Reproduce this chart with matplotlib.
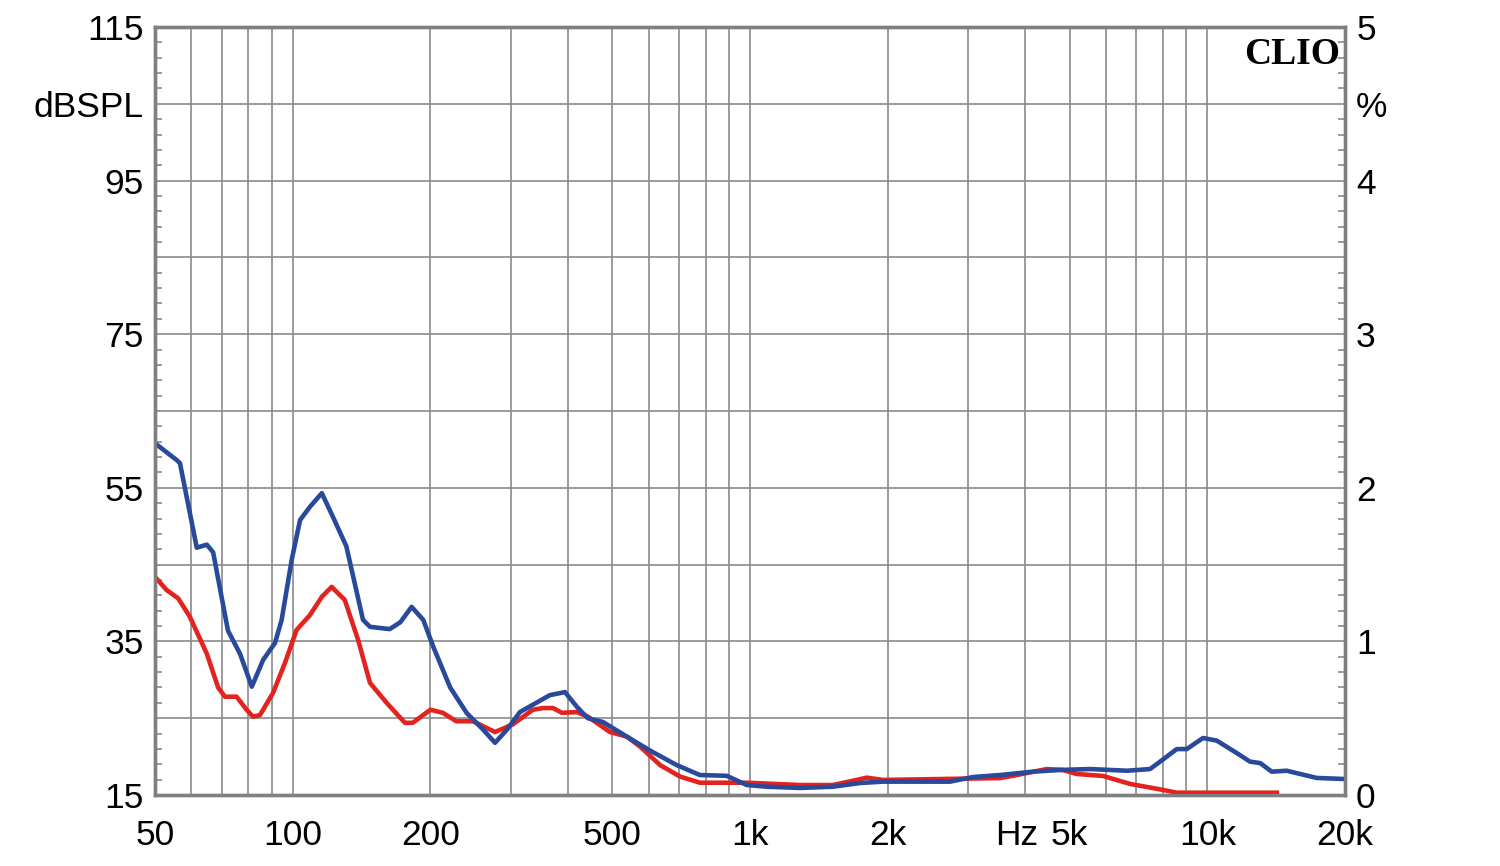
import numpy as np
import matplotlib
matplotlib.use("Agg")
import matplotlib.pyplot as plt
from matplotlib.ticker import FixedLocator, NullFormatter

# ---------------- data (distortion in %) ----------------
blue_freq = [50, 55.8, 56.7, 61.7, 64.9, 67, 72.2, 76.7, 81.4, 86.2, 91.5, 94.6, 99.5,
             103.8, 109, 115.8, 122.5, 131, 142.5, 147.6, 163, 172, 182, 193, 203, 221,
             240, 261, 277, 294, 314, 365, 394, 418, 442, 477, 538, 604, 691, 777, 889,
             984, 1088, 1286, 1519, 1741, 1954, 2737, 3073, 3521, 4160, 4764, 5540, 6676,
             7495, 7882, 8574, 9016, 9786, 10486, 11600, 12400, 13045, 13830, 14920,
             15950, 17350, 20000]
blue_pct = [2.29, 2.18, 2.16, 1.61, 1.63, 1.58, 1.07, 0.92, 0.705, 0.88, 0.99, 1.14, 1.53,
            1.79, 1.875, 1.965, 1.81, 1.62, 1.14, 1.095, 1.08, 1.125, 1.225, 1.14, 0.965,
            0.70, 0.535, 0.425, 0.34, 0.425, 0.54, 0.65, 0.67, 0.575, 0.50, 0.475, 0.38,
            0.29, 0.195, 0.13, 0.125, 0.065, 0.054, 0.046, 0.054, 0.078, 0.087, 0.087,
            0.117, 0.13, 0.152, 0.163, 0.169, 0.158, 0.169, 0.217, 0.299, 0.299, 0.371,
            0.354, 0.273, 0.217, 0.208, 0.152, 0.158, 0.137, 0.111, 0.104]

red_freq = [50, 53, 56.2, 59.6, 64.9, 68.7, 71.1, 75.4, 79.3, 81.9, 84.8, 90.6, 96.2, 102,
            109, 115.8, 121.7, 130, 139, 147.6, 160.5, 176, 183, 200, 213, 228, 248, 277,
            303, 335, 353, 371, 388, 418, 442, 494, 538, 575, 636, 703, 777, 984, 1286,
            1519, 1680, 1800, 1954, 2737, 3521, 3832, 4457, 4835, 5180, 5915, 6780, 8005,
            8574, 14190]
red_pct = [1.42, 1.335, 1.28, 1.16, 0.92, 0.70, 0.64, 0.64, 0.555, 0.51, 0.52, 0.665, 0.86,
           1.075, 1.17, 1.29, 1.355, 1.27, 1.01, 0.73, 0.60, 0.47, 0.47, 0.555, 0.535, 0.48,
           0.48, 0.41, 0.46, 0.555, 0.566, 0.566, 0.535, 0.54, 0.51, 0.41, 0.38, 0.315,
           0.195, 0.12, 0.08, 0.08, 0.065, 0.065, 0.093, 0.113, 0.098, 0.105, 0.11, 0.13,
           0.169, 0.163, 0.137, 0.124, 0.072, 0.033, 0.015, 0.015]

x_grid = [60, 70, 80, 90, 100, 200, 300, 400, 500, 600, 700, 800, 900, 1000,
          2000, 3000, 4000, 5000, 6000, 7000, 8000, 9000, 10000]
x_label_pos = [50, 100, 200, 500, 1000, 2000, 5000, 10000, 20000]
x_labels = ["50", "100", "200", "500", "1k", "2k", "5k", "10k", "20k"]
unit_label_pos = 3830

left_ticks = [15, 25, 35, 45, 55, 65, 75, 85, 95, 105, 115]
left_labels = ["15", "", "35", "", "55", "", "75", "", "95", "dBSPL", "115"]
right_ticks = [0, 0.5, 1, 1.5, 2, 2.5, 3, 3.5, 4, 4.5, 5]
right_labels = ["0", "", "1", "", "2", "", "3", "", "4", "%", "5"]

# ---------------- style ----------------
plt.rcParams["font.family"] = ["Liberation Sans", "DejaVu Sans"]
GRID = "#8a8a8a"
SPINE = "#7f7f7f"
BLUE = "#28499c"
RED = "#e2231f"
FS = 25.5
XPAD = 17

fig = plt.figure(figsize=(15, 8.66), dpi=100)
ax = fig.add_axes([155/1500, 71/866, 1190/1500, 768/866])
ax.set_xscale("log")
ax.set_xlim(50, 20000)
ax.set_ylim(15, 115)

ax2 = ax.twinx()
ax2.set_ylim(0, 5)

# grid
for f in x_grid:
    ax.axvline(f, color=GRID, lw=1.2, zorder=1)
for y in left_ticks[1:-1]:
    ax.axhline(y, color=GRID, lw=1.2, zorder=1)

# curves
ax2.plot(red_freq, red_pct, color=RED, lw=3.3, solid_joinstyle="round", zorder=3)
ax2.plot(blue_freq, blue_pct, color=BLUE, lw=3.3, solid_joinstyle="round", zorder=4)

# x ticks
ax.xaxis.set_major_locator(FixedLocator(x_label_pos))
ax.set_xticklabels(x_labels)
ax.xaxis.set_minor_locator(FixedLocator([]))
ax.xaxis.set_minor_formatter(NullFormatter())
ax.tick_params(axis="x", which="both", length=0, pad=XPAD, labelsize=FS)
ax.annotate("Hz", xy=(unit_label_pos, 0), xycoords=ax.get_xaxis_transform(),
            xytext=(0, -XPAD), textcoords="offset points", ha="center", va="top",
            fontsize=FS)

# left y ticks
ax.yaxis.set_major_locator(FixedLocator(left_ticks))
ax.set_yticklabels(left_labels)
ax.yaxis.set_minor_locator(FixedLocator(list(np.arange(15, 116, 2))))
ax.tick_params(axis="y", which="major", length=0, pad=8, labelsize=FS)
ax.tick_params(axis="y", which="minor", direction="in", length=5, width=1.1, color=SPINE)

# right y ticks
ax2.yaxis.set_major_locator(FixedLocator(right_ticks))
ax2.set_yticklabels(right_labels)
ax2.yaxis.set_minor_locator(FixedLocator(list(np.round(np.arange(0, 5.01, 0.1), 2))))
ax2.tick_params(axis="y", which="major", length=0, pad=8, labelsize=FS)
ax2.tick_params(axis="y", which="minor", direction="in", length=5, width=1.1, color=SPINE)

for a in (ax, ax2):
    for s in a.spines.values():
        s.set_color(SPINE)
        s.set_linewidth(2.4)
        s.set_zorder(5)

ax.text(0.996, 0.987, "CLIO", transform=ax.transAxes, ha="right", va="top",
        fontsize=27, fontweight="bold", family=["Liberation Serif", "DejaVu Serif"], zorder=6)

fig.savefig("out.png", dpi=100, facecolor="white")
